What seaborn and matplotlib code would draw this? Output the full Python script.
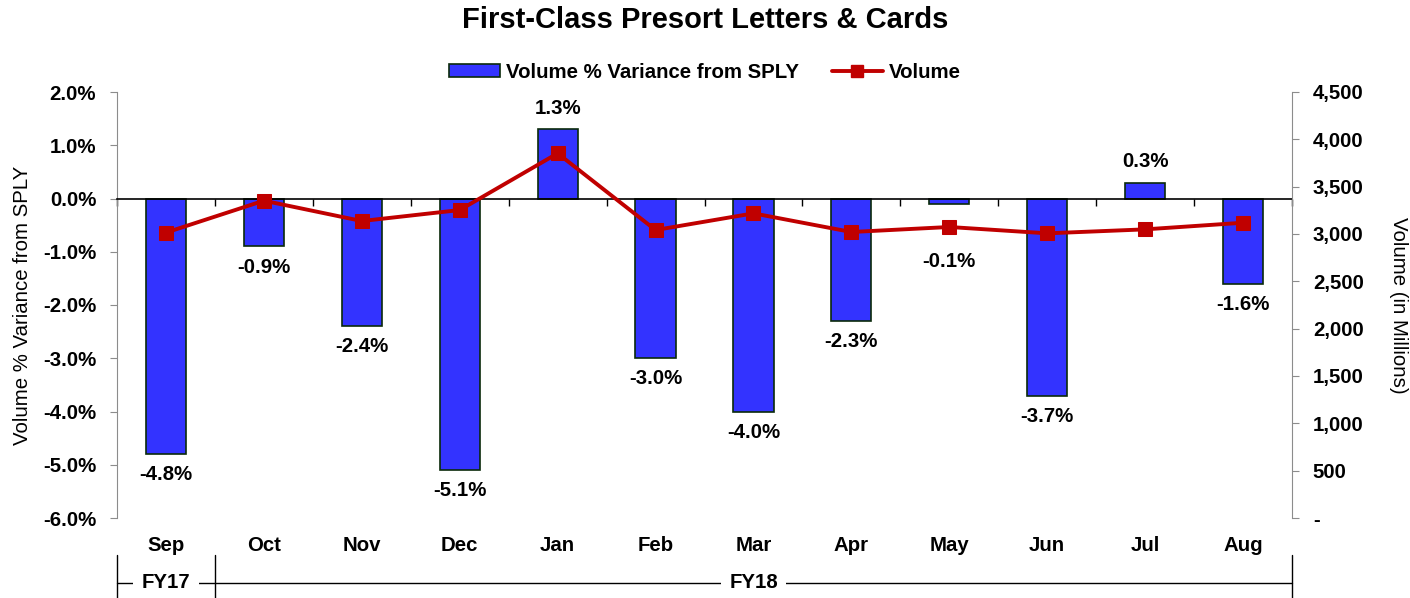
import numpy as np
import pandas as pd
import matplotlib
matplotlib.use("Agg")
import matplotlib.pyplot as plt
import matplotlib.transforms as mtransforms
from matplotlib.patches import Patch
from matplotlib.lines import Line2D
from matplotlib.ticker import FuncFormatter, MultipleLocator, FixedLocator
import seaborn as sns

# Data
months = ["Sep", "Oct", "Nov", "Dec", "Jan", "Feb", "Mar", "Apr", "May", "Jun", "Jul", "Aug"]
variance_pct = [-4.8, -0.9, -2.4, -5.1, 1.3, -3.0, -4.0, -2.3, -0.1, -3.7, 0.3, -1.6]
volume = [3015, 3352, 3137, 3253, 3852, 3042, 3218, 3021, 3074, 3007, 3049, 3119]
fy_groups = [("FY17", 0, 0), ("FY18", 1, 11)]

sns.set_style("white")
plt.rcParams["font.family"] = ["Liberation Sans", "DejaVu Sans"]
plt.rcParams.update({"text.color": "black", "axes.labelcolor": "black",
                     "xtick.color": "black", "ytick.color": "black"})

bar_color = "#3333FF"
bar_edge = "#0A2A0A"
line_color = "#C00000"
spine_gray = "#8C8C8C"
fs = 14.7

df = pd.DataFrame({"month": months, "variance": variance_pct, "volume": volume})
df["pos"] = np.arange(len(df))

fig = plt.figure(figsize=(14.10, 5.98), dpi=100)
ax = fig.add_axes([117 / 1410, 1 - 518 / 598, (1292 - 117) / 1410, (518 - 92) / 598])

sns.barplot(data=df, x="month", y="variance", color=bar_color, edgecolor=bar_edge,
            linewidth=1.2, width=0.41, saturation=1, ax=ax)
ax.set_xlim(-0.5, len(months) - 0.5)
ax.set_ylim(-6, 2)
ax.yaxis.set_major_locator(MultipleLocator(1))
ax.yaxis.set_major_formatter(FuncFormatter(lambda v, p: f"{v:.1f}%"))
ax.tick_params(axis="y", labelsize=fs, length=5, color=spine_gray, left=True, pad=10)
for lab in ax.get_yticklabels():
    lab.set_fontweight("bold")
ax.set_ylabel("Volume % Variance from SPLY", fontsize=fs, labelpad=8)
ax.set_xlabel("")

# zero line with ticks between categories, month labels at the bottom
ax.spines["bottom"].set_position(("data", 0))
ax.spines["bottom"].set_color("black")
ax.spines["bottom"].set_linewidth(1.2)
ax.spines["top"].set_visible(False)
ax.spines["right"].set_visible(False)
ax.spines["left"].set_color(spine_gray)
ax.xaxis.set_major_locator(FixedLocator(np.arange(-0.5, len(months), 1.0)))
ax.set_xticklabels([])
ax.tick_params(axis="x", bottom=True, length=5, width=1, color="black", direction="out")

trans = mtransforms.blended_transform_factory(ax.transData, ax.transAxes)
for i, m in enumerate(months):
    ax.text(i, -0.065, m, transform=trans, ha="center", va="center",
            fontsize=fs, fontweight="bold")

for cont in ax.containers:
    anns = ax.bar_label(cont, labels=[f"{v:.1f}%" for v in variance_pct], padding=8,
                        fontsize=fs, fontweight="bold")
    # the May label sits lower, clear of the volume line
    anns[months.index("May")].xyann = (0, -35)

# volume line on the right axis
ax2 = ax.twinx()
sns.lineplot(data=df, x="pos", y="volume", color=line_color, linewidth=2.8,
             marker="s", markersize=9.5, markeredgecolor=line_color, ax=ax2)
ax2.set_ylim(0, 4500)
ax2.set_xlim(-0.5, len(months) - 0.5)
ax2.yaxis.set_major_locator(MultipleLocator(500))
ax2.yaxis.set_major_formatter(FuncFormatter(lambda v, p: "-" if v == 0 else f"{v:,.0f}"))
ax2.tick_params(axis="y", labelsize=fs, length=5, color=spine_gray, right=True, pad=10)
for lab in ax2.get_yticklabels():
    lab.set_fontweight("bold")
ax2.set_ylabel("Volume (in Millions)", fontsize=fs, rotation=270, labelpad=32)
ax2.set_xlabel("")
for s in ["top", "left", "bottom"]:
    ax2.spines[s].set_visible(False)
ax2.spines["right"].set_color(spine_gray)

# fiscal year brackets
y_top, y_bot, y_mid = -0.087, -0.19, -0.152
bounds = [-0.5] + [g[2] + 0.5 for g in fy_groups]
for b in bounds:
    ax.plot([b, b], [y_top, y_bot], transform=trans, color="black", lw=1, clip_on=False)
for name, start, end in fy_groups:
    ax.plot([start - 0.5, end + 0.5], [y_mid, y_mid], transform=trans, color="black",
            lw=1, clip_on=False)
    ax.text((start + end) / 2, y_mid, name, transform=trans, ha="center", va="center",
            fontsize=fs, fontweight="bold",
            bbox=dict(facecolor="white", edgecolor="none", pad=6))

fig.suptitle("First-Class Presort Letters & Cards", fontsize=21, fontweight="bold", y=1 - 6 / 598)

handles = [Patch(facecolor=bar_color, edgecolor=bar_edge, linewidth=1.2),
           Line2D([0], [0], color=line_color, lw=2.8, marker="s", markersize=8)]
fig.legend(handles, ["Volume % Variance from SPLY", "Volume"], loc="center",
           bbox_to_anchor=(0.5, 1 - 72 / 598), ncol=2, frameon=False,
           prop={"size": fs, "weight": "bold"}, handlelength=2.5, handleheight=0.6,
           columnspacing=1.6, handletextpad=0.3)

fig.savefig("out.png", dpi=100)
